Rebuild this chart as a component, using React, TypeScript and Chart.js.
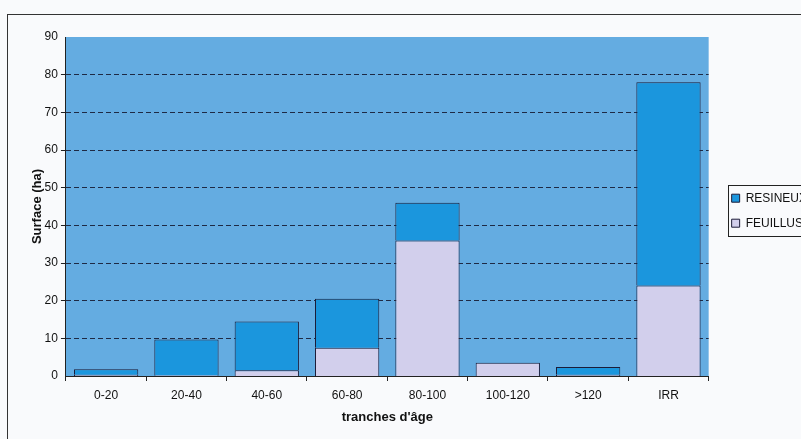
import React, { useEffect, useRef } from "react";
import { Chart, registerables } from "chart.js";

Chart.register(...registerables);

const categories = ["0-20", "20-40", "40-60", "60-80", "80-100", "100-120", ">120", "IRR"];
const resineux = [1.5, 9.5, 13, 13, 10, 0, 2.1, 54];
const feuillus = [0.3, 0.2, 1.5, 7.5, 36, 3.5, 0.3, 24];
const yTicks = [0, 10, 20, 30, 40, 50, 60, 70, 80, 90];

const FONT = "'Liberation Sans', Arial, sans-serif";

const plotBg = {
  id: "plotBg",
  beforeDraw(chart: any) {
    const { ctx, chartArea } = chart;
    ctx.save();
    ctx.fillStyle = "#64ace1";
    ctx.fillRect(chartArea.left, chartArea.top, chartArea.right - chartArea.left, chartArea.bottom - chartArea.top);
    ctx.restore();
  },
};

const legendBox = {
  id: "legendBox",
  afterDraw(chart: any) {
    const lg = chart.legend;
    if (!lg || !lg.legendHitBoxes || !lg.legendHitBoxes.length) return;
    const boxes = lg.legendHitBoxes;
    const l = Math.min(...boxes.map((b: any) => b.left)) - 4;
    const t = Math.min(...boxes.map((b: any) => b.top)) - 7;
    const r = Math.max(...boxes.map((b: any) => b.left + b.width)) + 30;
    const btm = Math.max(...boxes.map((b: any) => b.top + b.height)) + 7;
    const { ctx } = chart;
    ctx.save();
    ctx.strokeStyle = "#222";
    ctx.lineWidth = 1;
    ctx.strokeRect(Math.round(l) + 0.5, Math.round(t) + 0.5, r - l, btm - t);
    ctx.restore();
  },
};

export default function App() {
  const ref = useRef<HTMLCanvasElement>(null);
  useEffect(() => {
    if (!ref.current) return;
    const chart = new Chart(ref.current, {
      type: "bar",
      data: {
        labels: categories,
        datasets: [
          {
            label: "FEUILLUS",
            data: feuillus,
            backgroundColor: "#d2cfec",
            borderColor: "#1c1c38",
            borderWidth: 1,
            barPercentage: 0.8,
            categoryPercentage: 1,
          },
          {
            label: "RESINEUX",
            data: resineux,
            backgroundColor: "#1b96dd",
            borderColor: "#1c1c38",
            borderWidth: 1,
            barPercentage: 0.8,
            categoryPercentage: 1,
          },
        ],
      },
      plugins: [plotBg, legendBox],
      options: {
        animation: false,
        responsive: false,
        maintainAspectRatio: false,
        layout: { padding: { left: 30, top: 37, right: 0, bottom: 14 } },
        plugins: {
          tooltip: { enabled: false },
          legend: {
            position: "right",
            fullSize: false,
            reverse: true,
            align: "start",
            title: {
              display: true,
              text: " ",
              color: "rgba(0,0,0,0)",
              font: { family: FONT, size: 1 },
              padding: { top: 141, bottom: 0 },
            },
            labels: {
              boxWidth: 8,
              boxHeight: 8,
              padding: 13,
              color: "#111",
              font: { family: FONT, size: 12 },
            },
          },
        },
        scales: {
          x: {
            stacked: true,
            border: { display: true, color: "#222", width: 1 },
            grid: { display: true, drawOnChartArea: false, drawTicks: true, tickLength: 5, color: "#222", offset: true },
            ticks: { color: "#111", font: { family: FONT, size: 12 }, padding: 7, maxRotation: 0 },
            title: {
              display: true,
              text: "tranches d'âge",
              color: "#111",
              font: { family: FONT, size: 13, weight: "bold" },
              padding: { top: 0, bottom: 0 },
            },
          },
          y: {
            stacked: true,
            min: 0,
            max: 90,
            afterBuildTicks: (axis: any) => {
              axis.ticks = yTicks.map((v) => ({ value: v }));
            },
            border: { display: true, color: "#222", width: 1, dash: [5, 3] },
            grid: {
              color: "#1e2a44",
              lineWidth: (c: any) => (c.tick && (c.tick.value === 0 || c.tick.value === 90) ? 0 : 1),
              drawTicks: true,
              tickLength: 5,
              tickColor: "#222",
              tickBorderDash: [],
            } as any,
            ticks: { color: "#111", font: { family: FONT, size: 12 }, padding: 3 },
            title: {
              display: true,
              text: "Surface (ha)",
              color: "#111",
              font: { family: FONT, size: 13, weight: "bold" },
              padding: { top: 0, bottom: -4 },
            },
          },
          gap: {
            type: "linear",
            position: "right",
            display: true,
            grid: { display: false },
            border: { display: false },
            ticks: { display: false },
            afterFit: (axis: any) => {
              axis.width = 10;
            },
          },
        },
      } as any,
    });
    return () => chart.destroy();
  }, []);

  return (
    <div style={{ position: "absolute", left: 0, top: 0, width: 801, height: 439, overflow: "hidden", background: "#f9fafc" }}>
      <div
        style={{
          position: "absolute",
          left: 7,
          top: 14,
          width: 900,
          height: 600,
          borderLeft: "1.5px solid #333",
          borderTop: "1.5px solid #333",
        }}
      />
      <canvas ref={ref} width={817} height={439} style={{ position: "absolute", left: 0, top: 0, width: 817, height: 439 }} />
    </div>
  );
}
